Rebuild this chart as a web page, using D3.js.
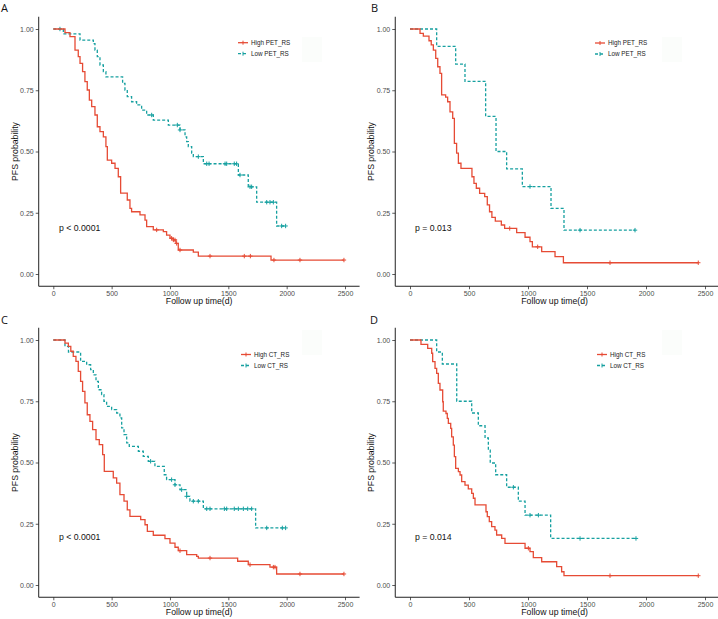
<!DOCTYPE html>
<html><head><meta charset="utf-8">
<script src="https://cdn.jsdelivr.net/npm/d3@7"></script>
<style>body{margin:0;background:#fff} svg{display:block} text{font-family:"Liberation Sans",Arial,sans-serif}</style>
</head><body><svg id="c" width="718" height="619"></svg>
<script>
// ---------- data ----------
const xTicks = [0, 500, 1000, 1500, 2000, 2500];
const yTicks = [0, 0.25, 0.5, 0.75, 1];
const yTickLabels = ["0.00", "0.25", "0.50", "0.75", "1.00"];
const panelLetters = ["A", "B", "C", "D"];
const pValues = ["p < 0.0001", "p = 0.013", "p < 0.0001", "p = 0.014"];
const highLabels = ["High PET_RS", "High PET_RS", "High CT_RS", "High CT_RS"];
const lowLabels = ["Low PET_RS", "Low PET_RS", "Low CT_RS", "Low CT_RS"];
const xTitle = "Follow up time(d)";
const yTitle = "PFS probability";

// Panel A (PET_RS, training)
const aHighTime = [100,143,186,214,229,251,271,291,309,329,357,377,400,429,451,463,500,529,557,577,634,657,671,743,786,800,857,943,971,1000,1029,1051,1071,1200,1243,1866];
const aHighSurv = [0.985,0.969,0.914,0.887,0.86,0.826,0.785,0.751,0.71,0.683,0.649,0.601,0.581,0.56,0.52,0.465,0.452,0.431,0.397,0.33,0.302,0.268,0.254,0.241,0.22,0.193,0.18,0.173,0.159,0.146,0.139,0.125,0.098,0.089,0.073,0.057];
const aHighCensor = [886,1014,1029,1043,1057,1086,1343,1637,1689,1891,2114,2491];
const aLowTime = [86,229,343,357,377,400,429,451,594,614,634,671,714,757,800,857,986,1086,1129,1143,1157,1186,1200,1286,1586,1671,1743,1914];
const aLowSurv = [0.98,0.955,0.94,0.914,0.887,0.853,0.826,0.805,0.778,0.751,0.724,0.703,0.69,0.669,0.649,0.628,0.608,0.588,0.56,0.54,0.52,0.493,0.479,0.45,0.404,0.356,0.293,0.196];
const aLowCensor = [57,843,1063,1086,1243,1315,1335,1472,1486,1551,1571,1600,1686,1700,1829,1857,1886,1957,1991];

// Panel B (PET_RS, validation)
const bHighTime = [85,113,161,180,198,218,235,254,268,302,319,339,362,376,395,410,432,525,542,562,590,633,655,674,694,723,774,802,904,975,1017,1037,1116,1229,1300];
const bHighSurv = [0.982,0.971,0.952,0.935,0.914,0.88,0.846,0.819,0.731,0.722,0.703,0.662,0.635,0.533,0.493,0.452,0.431,0.397,0.37,0.35,0.329,0.316,0.282,0.254,0.231,0.216,0.2,0.186,0.169,0.15,0.132,0.111,0.091,0.071,0.046];
const bHighCensor = [845,1082,1695,2443];
const bLowTime = [226,387,466,641,729,819,952,1195,1305];
const bLowSurv = [0.929,0.857,0.786,0.643,0.5,0.429,0.357,0.268,0.179];
const bLowCensor = [1017,1441,1907];

// Panel C (CT_RS, training)
const cHighTime = [100,129,150,171,194,214,234,251,271,291,314,337,366,394,423,437,514,543,571,606,634,657,749,786,806,857,957,1000,1043,1071,1143,1229,1243,1580,1671,1857,1914];
const cHighSurv = [0.987,0.974,0.954,0.933,0.913,0.872,0.831,0.79,0.743,0.695,0.668,0.634,0.593,0.573,0.532,0.464,0.437,0.416,0.369,0.342,0.307,0.28,0.267,0.246,0.219,0.203,0.189,0.171,0.154,0.14,0.124,0.117,0.11,0.097,0.083,0.073,0.045];
const cHighCensor = [1086,1343,1686,1886,1900,2114,2491];
const cLowTime = [100,130,234,286,320,343,366,386,414,434,457,500,543,571,586,606,629,651,729,771,814,871,951,971,1043,1086,1143,1171,1286,1734];
const cLowSurv = [0.974,0.951,0.913,0.899,0.879,0.858,0.831,0.797,0.777,0.75,0.729,0.716,0.702,0.682,0.641,0.614,0.58,0.566,0.546,0.525,0.505,0.484,0.45,0.43,0.409,0.389,0.362,0.342,0.311,0.233];
const cLowCensor = [834,1014,1043,1100,1143,1200,1243,1315,1343,1466,1486,1551,1586,1629,1666,1700,1829,1963,1991];

// Panel D (CT_RS, validation)
const dHighTime = [93,150,184,192,212,226,240,254,277,282,305,316,325,345,353,367,376,387,410,424,438,466,494,523,537,551,644,655,672,692,720,734,777,805,975,1017,1045,1116,1243,1285,1305];
const dHighSurv = [0.982,0.966,0.946,0.912,0.884,0.864,0.823,0.796,0.748,0.71,0.7,0.68,0.66,0.639,0.605,0.571,0.524,0.476,0.463,0.449,0.422,0.408,0.392,0.374,0.354,0.327,0.299,0.279,0.259,0.238,0.224,0.204,0.19,0.17,0.15,0.136,0.112,0.095,0.075,0.054,0.038];
const dHighCensor = [1003,1695,2443];
const dLowTime = [226,274,396,523,579,636,664,680,726,819,918,975,1192];
const dLowSurv = [0.951,0.902,0.75,0.702,0.65,0.6,0.55,0.498,0.45,0.399,0.342,0.285,0.19];
const dLowCensor = [876,1017,1088,1441,1915];

// ---------- layout ----------
const RED = "#E64B35", TEAL = "#16A0A0";
const panels = [
  {x0:53.3, x1:345, yTop:29, yBot:274, high:[aHighTime,aHighSurv,aHighCensor], low:[aLowTime,aLowSurv,aLowCensor], letter:[1,12], legend:[238,42.7], p:[59,230.5], box:[302,37]},
  {x0:410, x1:705, yTop:29, yBot:274, high:[bHighTime,bHighSurv,bHighCensor], low:[bLowTime,bLowSurv,bLowCensor], letter:[371,12], legend:[595,43], p:[415,230.5], box:[662,37]},
  {x0:53.3, x1:345, yTop:340, yBot:585, high:[cHighTime,cHighSurv,cHighCensor], low:[cLowTime,cLowSurv,cLowCensor], letter:[1,324], legend:[241,354.5], p:[59,540], box:[302,330]},
  {x0:410, x1:705, yTop:340, yBot:585, high:[dHighTime,dHighSurv,dHighCensor], low:[dLowTime,dLowSurv,dLowCensor], letter:[370,324], legend:[597,354.5], p:[415,539.5], box:[662,330]}
];

const svg = d3.select("#c");

function survAt(times, surv, t) {
  let s = 1;
  for (let i = 0; i < times.length; i++) if (times[i] <= t) s = surv[i];
  return s;
}

panels.forEach((P, i) => {
  const x = d3.scaleLinear().domain([0, 2500]).range([P.x0, P.x1]);
  const y = d3.scaleLinear().domain([0, 1]).range([P.yBot, P.yTop]);
  const g = svg.append("g");
  const left = x(-125), right = x(2625), top = y(1.05), bot = y(-0.05);

  // faint legend background artefact
  g.append("rect").attr("x", P.box[0]).attr("y", P.box[1]).attr("width", 20).attr("height", 25).attr("fill", "#fbfdfb");

  // axes
  const xa = g.append("g").attr("transform", `translate(0,${bot})`)
    .call(d3.axisBottom(x).tickValues(xTicks).tickSize(3).tickPadding(2).tickFormat(d3.format("d")));
  const ya = g.append("g").attr("transform", `translate(${left},0)`)
    .call(d3.axisLeft(y).tickValues(yTicks).tickSize(3).tickPadding(2).tickFormat(d => yTickLabels[yTicks.indexOf(d)]));
  [xa, ya].forEach(a => {
    a.select(".domain").remove();
    a.selectAll(".tick line").attr("stroke", "#333").attr("stroke-width", 0.8);
    a.selectAll(".tick text").attr("fill", "#4d4d4d").style("font-size", "7px").style("font-family", "Liberation Sans, Arial, sans-serif");
  });
  g.append("line").attr("x1", left).attr("x2", right).attr("y1", bot).attr("y2", bot).attr("stroke", "#222").attr("stroke-width", 1);
  g.append("line").attr("x1", left).attr("x2", left).attr("y1", top).attr("y2", bot).attr("stroke", "#222").attr("stroke-width", 1);

  // axis titles
  g.append("text").attr("x", (left + Math.min(right, 718)) / 2 + (i % 2 ? -2 : 0)).attr("y", bot + 17.5)
    .attr("text-anchor", "middle").style("font-size", "8.7px").attr("fill", "#111").text(xTitle);
  g.append("text").attr("transform", `translate(${left - 21},${(top + bot) / 2}) rotate(-90)`)
    .attr("text-anchor", "middle").style("font-size", "8.7px").attr("fill", "#111").text(yTitle);

  // curves
  const line = d3.line().x(d => x(d[0])).y(d => y(d[1])).curve(d3.curveStepAfter);
  [[P.low, TEAL, "3,2"], [P.high, RED, null]].forEach(([ser, col, dash]) => {
    const [times, surv, cens] = ser;
    const pts = [[0, 1]].concat(times.map((t, k) => [t, surv[k]]));
    const end = Math.max(d3.max(cens), d3.max(times));
    pts.push([end, survAt(times, surv, end)]);
    g.append("path").attr("d", line(pts)).attr("fill", "none").attr("stroke", col)
      .attr("stroke-width", 1.3).attr("stroke-dasharray", dash);
    cens.forEach(c => {
      const cx = x(c), cy = y(survAt(times, surv, c));
      g.append("line").attr("x1", cx).attr("x2", cx).attr("y1", cy - 2.2).attr("y2", cy + 2.2).attr("stroke", col).attr("stroke-width", 1);
      g.append("line").attr("x1", cx - 2.2).attr("x2", cx + 2.2).attr("y1", cy).attr("y2", cy).attr("stroke", col).attr("stroke-width", 1);
    });
  });

  // legend
  [[highLabels[i], RED, null, 0], [lowLabels[i], TEAL, "3,2", 11]].forEach(([lab, col, dash, dy]) => {
    const lx = P.legend[0], ly = P.legend[1] + dy;
    g.append("line").attr("x1", lx).attr("x2", lx + 10).attr("y1", ly).attr("y2", ly).attr("stroke", col).attr("stroke-width", 1.3).attr("stroke-dasharray", dash);
    g.append("line").attr("x1", lx + 5).attr("x2", lx + 5).attr("y1", ly - 2).attr("y2", ly + 2).attr("stroke", col).attr("stroke-width", 1);
    g.append("text").attr("x", lx + 13).attr("y", ly + 2.2).style("font-size", "6.3px").attr("fill", "#222").text(lab);
  });

  // p value
  g.append("text").attr("x", P.p[0]).attr("y", P.p[1]).style("font-size", "8.7px").attr("fill", "#111").text(pValues[i]);

  // panel letter
  g.append("text").attr("x", P.letter[0]).attr("y", P.letter[1]).style("font-size", "11px")
    .style("font-family", "Open Sans, sans-serif").attr("fill", "#111").text(panelLetters[i]);
});
</script></body></html>
